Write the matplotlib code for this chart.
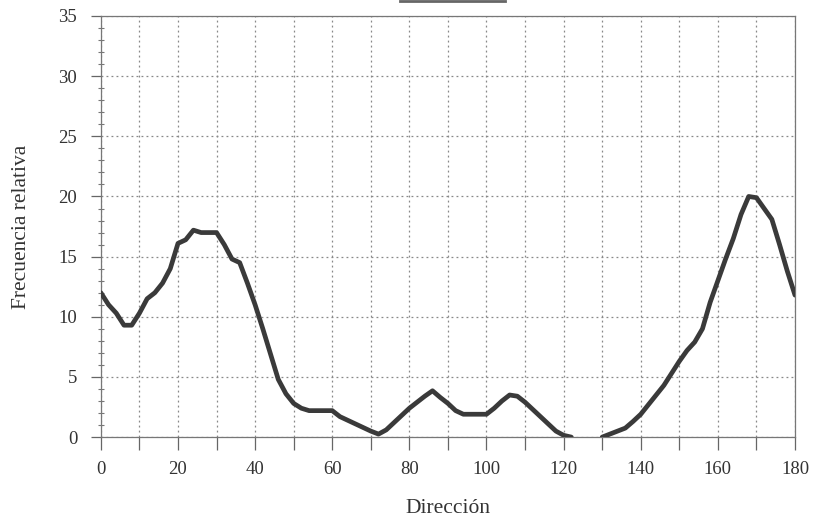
import numpy as np
import matplotlib
matplotlib.use('Agg')
import matplotlib.pyplot as plt
from matplotlib.lines import Line2D

# Direction (degrees) and relative frequency (%); nan = no line drawn
direccion = list(range(0, 182, 2))
frecuencia = [
    12.0, 11.0, 10.3, 9.3, 9.3, 10.3, 11.5, 12.0, 12.8, 14.0,
    16.1, 16.4, 17.2, 17.0, 17.0, 17.0, 16.0, 14.8, 14.5, 12.8,
    11.0, 9.0, 6.9, 4.8, 3.6, 2.8, 2.4, 2.2, 2.2, 2.2,
    2.2, 1.7, 1.4, 1.1, 0.8, 0.5, 0.25, 0.6, 1.2, 1.8,
    2.4, 2.9, 3.4, 3.85, 3.3, 2.8, 2.2, 1.9, 1.9, 1.9,
    1.9, 2.4, 3.0, 3.5, 3.4, 2.9, 2.3, 1.7, 1.1, 0.5,
    0.15, 0.0, np.nan, np.nan, np.nan, 0.0, 0.25, 0.5, 0.75, 1.3,
    1.9, 2.7, 3.5, 4.3, 5.3, 6.3, 7.2, 7.9, 9.0, 11.2,
    13.0, 14.8, 16.5, 18.5, 20.0, 19.9, 19.0, 18.1, 16.0, 13.8,
    11.8,
]
x_labels = [0, 20, 40, 60, 80, 100, 120, 140, 160, 180]
y_labels = [0, 5, 10, 15, 20, 25, 30, 35]

plt.rcParams['font.family'] = ['Liberation Serif', 'DejaVu Serif']

fig = plt.figure(figsize=(8.2, 5.26), dpi=100)
ax = fig.add_axes([0.123, 0.169, 0.8465, 0.8006])

ax.plot(direccion, frecuencia, color='#3a3a3a', linewidth=3.4,
        solid_joinstyle='round', solid_capstyle='round', zorder=3)

ax.set_xlim(0, 180)
ax.set_ylim(0, 35)
ax.set_xticks(np.arange(0, 181, 10))
ax.set_xticklabels([str(v) if v in x_labels else '' for v in range(0, 181, 10)])
ax.set_yticks(y_labels)
ax.set_yticks(np.arange(0, 36, 1), minor=True)

ax.grid(True, which='major', linestyle=(0, (1.5, 2.5)), color='#888888', linewidth=0.9)
ax.tick_params(axis='x', direction='out', length=9, width=0.9, color='#666666',
               labelsize=13.5, labelcolor='#333333', pad=8)
ax.tick_params(axis='y', which='major', direction='out', length=7, width=0.9,
               color='#666666', labelsize=13.5, labelcolor='#333333', pad=10)
ax.tick_params(axis='y', which='minor', direction='inout', length=5, width=0.8,
               color='#777777')

for side in ['top', 'right', 'left', 'bottom']:
    ax.spines[side].set_color('#777777')
    ax.spines[side].set_linewidth(0.9)

ax.set_xlabel('Dirección', fontsize=15.5, color='#333333', labelpad=15)
ax.set_ylabel('Frecuencia relativa', fontsize=15.5, color='#333333', labelpad=20)

# fragment of a cropped title underline at the top edge
fig.add_artist(Line2D([0.488, 0.616], [0.998, 0.998], transform=fig.transFigure,
                      color='#666666', linewidth=2))

fig.savefig('out.png', dpi=100, facecolor='white')
